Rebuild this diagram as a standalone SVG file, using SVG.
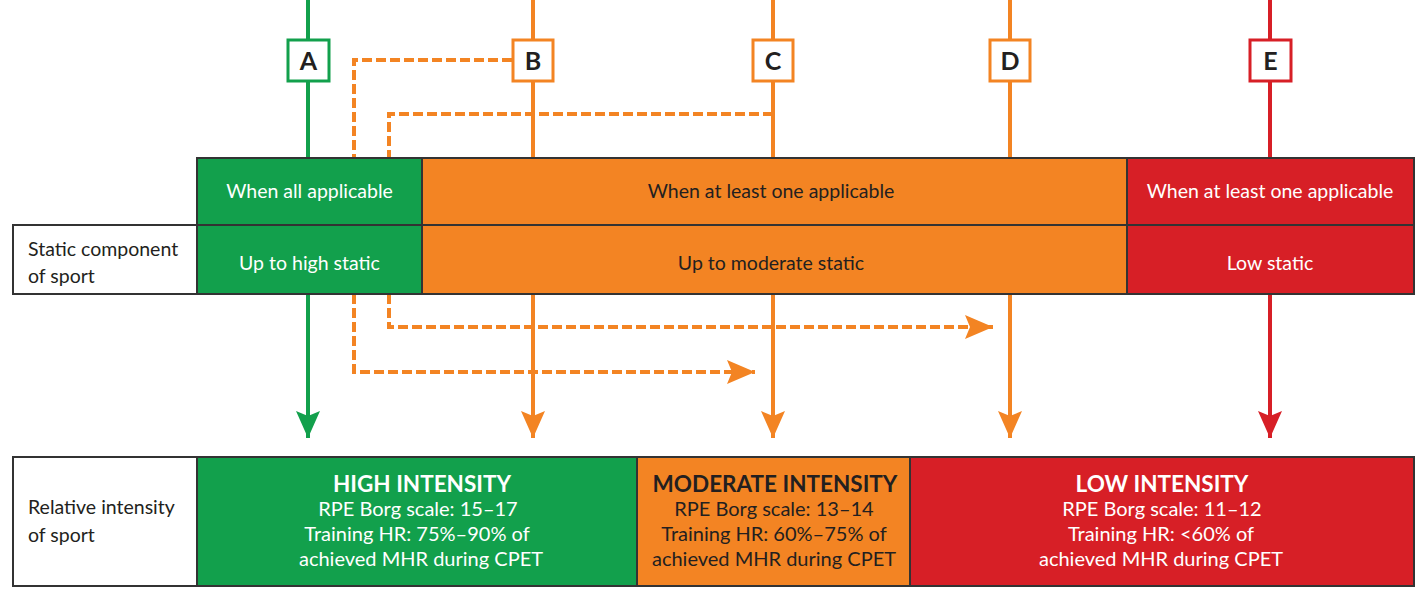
<svg xmlns="http://www.w3.org/2000/svg" width="1421" height="591" viewBox="0 0 1421 591">
<defs>
<style>
.t{font-family:Lato,"Liberation Sans",sans-serif;}
.w{fill:#ffffff;}
.k{fill:#231f20;}
.cell{stroke:#333333;stroke-width:2;}
.g{fill:#12a04c;}
.o{fill:#f38423;}
.r{fill:#d71f26;}
.ln{fill:none;stroke-width:4;}
.dash{fill:none;stroke:#f38423;stroke-width:4;stroke-dasharray:10 4;}
.box{fill:#ffffff;stroke-width:3;}
.letter{font-family:Lato,"Liberation Sans",sans-serif;font-size:25px;font-weight:bold;fill:#231f20;text-anchor:middle;}
.hd{font-weight:bold;font-size:22.5px;}
</style>
<marker id="ag" markerWidth="24" markerHeight="29" refX="12" refY="27" orient="0" markerUnits="userSpaceOnUse"><path d="M0,0 L12,27 L24,0 L12,5 Z" fill="#12a04c"/></marker>
<marker id="ao" markerWidth="24" markerHeight="29" refX="12" refY="27" orient="0" markerUnits="userSpaceOnUse"><path d="M0,0 L12,27 L24,0 L12,5 Z" fill="#f38423"/></marker>
<marker id="ar" markerWidth="24" markerHeight="29" refX="12" refY="27" orient="0" markerUnits="userSpaceOnUse"><path d="M0,0 L12,27 L24,0 L12,5 Z" fill="#d71f26"/></marker>
<marker id="ah" markerWidth="29" markerHeight="24" refX="28" refY="12" orient="0" markerUnits="userSpaceOnUse"><path d="M0,0 L28,12 L0,24 L5,12 Z" fill="#f38423"/></marker>
</defs>
<rect width="1421" height="591" fill="#ffffff"/>

<g id="connectors">
<line class="ln" x1="308" y1="0" x2="308" y2="160" stroke="#12a04c"/>
<line class="ln" x1="533" y1="0" x2="533" y2="160" stroke="#f38423"/>
<line class="ln" x1="773" y1="0" x2="773" y2="160" stroke="#f38423"/>
<line class="ln" x1="1010" y1="0" x2="1010" y2="160" stroke="#f38423"/>
<line class="ln" x1="1270" y1="0" x2="1270" y2="160" stroke="#d71f26"/>
<path class="dash" d="M512,60 H354 V160"/>
<path class="dash" d="M773,114 H389 V160"/>
<line class="ln" x1="308" y1="294" x2="308" y2="438" stroke="#12a04c" marker-end="url(#ag)"/>
<line class="ln" x1="533" y1="294" x2="533" y2="438" stroke="#f38423" marker-end="url(#ao)"/>
<line class="ln" x1="773" y1="294" x2="773" y2="438" stroke="#f38423" marker-end="url(#ao)"/>
<line class="ln" x1="1010" y1="294" x2="1010" y2="438" stroke="#f38423" marker-end="url(#ao)"/>
<line class="ln" x1="1270" y1="294" x2="1270" y2="438" stroke="#d71f26" marker-end="url(#ar)"/>
<path class="dash" d="M354,294 V372 H755" marker-end="url(#ah)"/>
<path class="dash" d="M389,294 V327 H993" marker-end="url(#ah)"/>
</g>

<g id="node-A"><rect class="box" x="288" y="40" width="41" height="41" stroke="#12a04c"/><text class="letter" x="308.5" y="69.5">A</text></g>
<g id="node-B"><rect class="box" x="513" y="40" width="40" height="41" stroke="#f38423"/><text class="letter" x="533" y="69.5">B</text></g>
<g id="node-C"><rect class="box" x="753" y="40" width="40" height="41" stroke="#f38423"/><text class="letter" x="773" y="69.5">C</text></g>
<g id="node-D"><rect class="box" x="990" y="40" width="40" height="41" stroke="#f38423"/><text class="letter" x="1010" y="69.5">D</text></g>
<g id="node-E"><rect class="box" x="1250" y="40" width="41" height="41" stroke="#d71f26"/><text class="letter" x="1270.5" y="69.5">E</text></g>

<g id="static-table">
<rect class="cell" x="13" y="225" width="184" height="69" fill="#ffffff"/>
<rect class="cell g" x="197" y="158" width="225" height="67"/>
<rect class="cell g" x="197" y="225" width="225" height="69"/>
<rect class="cell o" x="422" y="158" width="705" height="67"/>
<rect class="cell o" x="422" y="225" width="705" height="69"/>
<rect class="cell r" x="1127" y="158" width="287" height="67"/>
<rect class="cell r" x="1127" y="225" width="287" height="69"/>
<text class="t k" x="28" y="256" font-size="19.5">Static component</text>
<text class="t k" x="28" y="283" font-size="19.5">of sport</text>
<text class="t w" x="309.5" y="198" font-size="19.5" text-anchor="middle">When all applicable</text>
<text class="t k" x="771" y="198" font-size="19.5" text-anchor="middle">When at least one applicable</text>
<text class="t w" x="1270" y="198" font-size="19.5" text-anchor="middle">When at least one applicable</text>
<text class="t w" x="309.5" y="270" font-size="19.5" text-anchor="middle">Up to high static</text>
<text class="t k" x="771" y="270" font-size="19.5" text-anchor="middle">Up to moderate static</text>
<text class="t w" x="1270" y="270" font-size="19.5" text-anchor="middle">Low static</text>
</g>

<g id="intensity-table">
<rect class="cell" x="13" y="457" width="184" height="129" fill="#ffffff"/>
<rect class="cell g" x="197" y="457" width="440" height="129"/>
<rect class="cell o" x="637" y="457" width="273" height="129"/>
<rect class="cell r" x="910" y="457" width="504" height="129"/>
<text class="t k" x="28" y="514" font-size="19.5">Relative intensity</text>
<text class="t k" x="28" y="542" font-size="19.5">of sport</text>
<g class="t w" font-size="20" text-anchor="middle">
<text class="hd" x="422" y="492">HIGH INTENSITY</text>
<text x="418" y="516">RPE Borg scale: 15–17</text>
<text x="417" y="541">Training HR: 75%–90% of</text>
<text x="421" y="566">achieved MHR during CPET</text>
</g>
<g class="t k" font-size="20" text-anchor="middle">
<text class="hd" x="775" y="492">MODERATE INTENSITY</text>
<text x="774" y="516">RPE Borg scale: 13–14</text>
<text x="774" y="541">Training HR: 60%–75% of</text>
<text x="774" y="566">achieved MHR during CPET</text>
</g>
<g class="t w" font-size="20" text-anchor="middle">
<text class="hd" x="1162" y="492">LOW INTENSITY</text>
<text x="1162" y="516">RPE Borg scale: 11–12</text>
<text x="1161" y="541">Training HR: &lt;60% of</text>
<text x="1161" y="566">achieved MHR during CPET</text>
</g>
</g>
</svg>
